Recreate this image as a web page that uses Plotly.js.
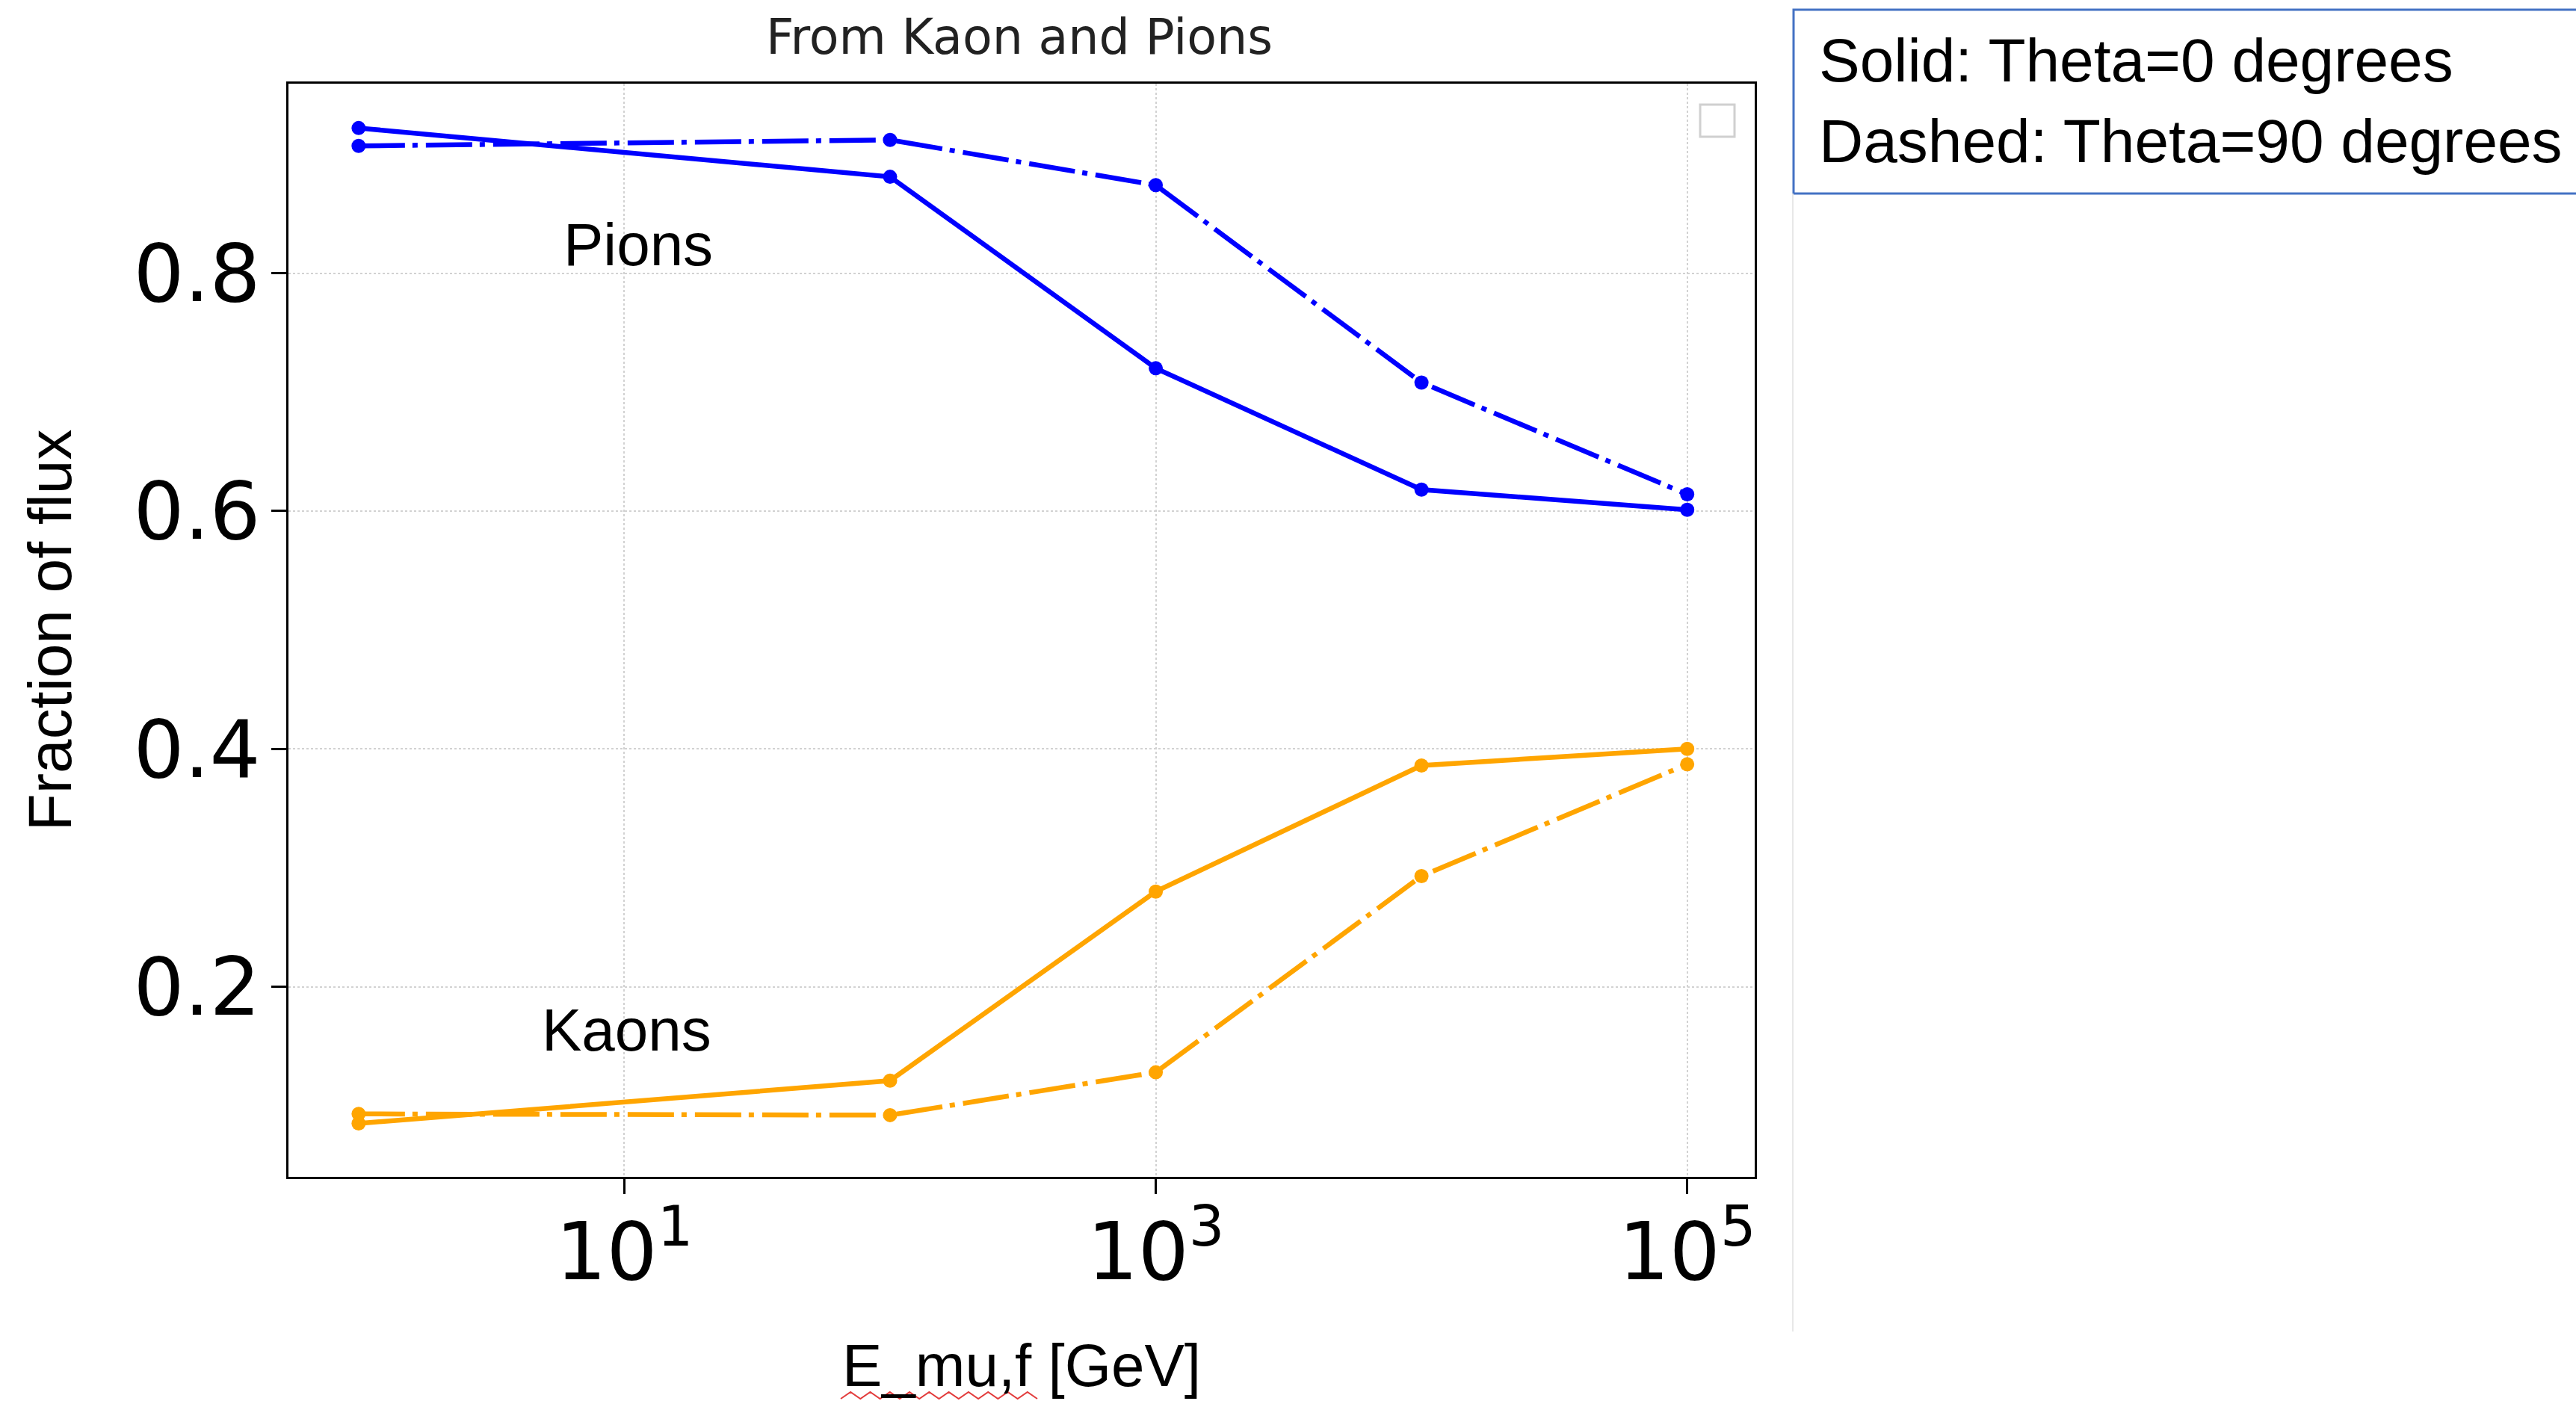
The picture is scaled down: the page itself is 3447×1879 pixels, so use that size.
<!DOCTYPE html>
<html>
<head>
<meta charset="utf-8">
<script src="https://cdn.plot.ly/plotly-3.0.1.min.js"></script>
<style>
html, body { margin: 0; padding: 0; background: #ffffff; }
#chart { width: 3447px; height: 1879px; }
</style>
</head>
<body>
<div id="chart"></div>
<script>
// ---- data ----
const energy = [1, 100, 1000, 10000, 100000];
const pionSolid = [0.922, 0.881, 0.720, 0.618, 0.601];
const pionDashed = [0.907, 0.912, 0.874, 0.708, 0.614];
const kaonSolid = [0.085, 0.121, 0.280, 0.386, 0.400];
const kaonDashed = [0.093, 0.092, 0.128, 0.293, 0.387];

const xTickVals = [10, 1000, 100000];
const xTickText = ['10<sup>1</sup>', '10<sup>3</sup>', '10<sup>5</sup>'];
const yTickVals = [0.2, 0.4, 0.6, 0.8];
const yTickText = ['0.2', '0.4', '0.6', '0.8'];

const seriesNames = ['Pions, Theta=0', 'Pions, Theta=90', 'Kaons, Theta=0', 'Kaons, Theta=90'];
const groupLabels = ['Pions', 'Kaons'];
const noteLines = ['Solid: Theta=0 degrees', 'Dashed: Theta=90 degrees'];
const chartTitle = 'From Kaon and Pions';
const xTitle = 'E_mu,f [GeV]';
const yTitle = 'Fraction of flux';

// ---- layout geometry ----
const W = 3447, H = 1879;
const L = 386, R = W - 2348, T = 112, B = H - 1575;
const PW = W - L - R, PH = H - T - B;
const px2x = p => (p - L) / PW;
const py2y = p => (H - B - p) / PH;

const BLUE = '#0000ff';
const ORANGE = '#ffa500';
const DASHDOT = '62px,10px,7px,11px';

function series(y, name, color, dash) {
  return {
    x: energy, y: y, name: name, type: 'scatter', mode: 'lines+markers',
    line: {color: color, width: 6.5, dash: dash},
    marker: {color: color, size: 19, symbol: 'circle'},
    showlegend: false, hoverinfo: 'skip'
  };
}

const traces = [
  series(pionDashed, seriesNames[1], BLUE, DASHDOT),
  series(pionSolid, seriesNames[0], BLUE, 'solid'),
  series(kaonDashed, seriesNames[3], ORANGE, DASHDOT),
  series(kaonSolid, seriesNames[2], ORANGE, 'solid')
];

// wavy spell-check underline under "E_mu,f"
let wave = '';
const wx0 = 1125, wx1 = 1388, wyTop = 1863, wyBot = 1872, nSeg = 20;
for (let i = 0; i <= nSeg; i++) {
  const xp = wx0 + (wx1 - wx0) * i / nSeg;
  const yp = (i % 2 === 0) ? wyBot : wyTop;
  wave += (i === 0 ? 'M' : 'L') + px2x(xp).toFixed(5) + ',' + py2y(yp).toFixed(5);
}

const shapes = [
  {type: 'rect', xref: 'paper', yref: 'paper', x0: px2x(2400), x1: px2x(3470), y0: py2y(259), y1: py2y(13),
   line: {color: '#4472c4', width: 3}, fillcolor: 'rgba(0,0,0,0)'},
  {type: 'line', xref: 'paper', yref: 'paper', x0: px2x(2399), x1: px2x(2399), y0: py2y(259), y1: py2y(1782),
   line: {color: '#e8e8e8', width: 2}},
  {type: 'rect', xref: 'paper', yref: 'paper', x0: px2x(2275), x1: px2x(2321), y0: py2y(183), y1: py2y(140),
   line: {color: '#d0d0d0', width: 3}, fillcolor: 'rgba(255,255,255,0.8)'},
  {type: 'path', xref: 'paper', yref: 'paper', path: wave, line: {color: '#e23b3b', width: 2}}
];

const textFont = {family: 'Liberation Sans, Arial, sans-serif', color: '#000000'};

const annotations = [
  {text: groupLabels[0], xref: 'paper', yref: 'paper', x: px2x(854), y: py2y(328), xanchor: 'center', yanchor: 'middle',
   showarrow: false, font: Object.assign({size: 80}, textFont)},
  {text: groupLabels[1], xref: 'paper', yref: 'paper', x: px2x(838), y: py2y(1378), xanchor: 'center', yanchor: 'middle',
   showarrow: false, font: Object.assign({size: 80}, textFont)},
  {text: noteLines[0], xref: 'paper', yref: 'paper', x: px2x(2432), y: py2y(81), xanchor: 'left', yanchor: 'middle',
   showarrow: false, font: Object.assign({size: 82}, textFont)},
  {text: noteLines[1], xref: 'paper', yref: 'paper', x: px2x(2432), y: py2y(188), xanchor: 'left', yanchor: 'middle',
   showarrow: false, font: Object.assign({size: 82}, textFont)}
];

const tickFont = {family: 'DejaVu Sans, sans-serif', size: 107, color: '#000000'};

const layout = {
  width: W, height: H,
  margin: {l: L, r: R, t: T, b: B, pad: 0},
  paper_bgcolor: '#ffffff', plot_bgcolor: '#ffffff',
  showlegend: false,
  title: {text: chartTitle, font: {family: 'DejaVu Sans, sans-serif', size: 65, color: '#222222'},
          x: px2x(1364), xref: 'paper', xanchor: 'center', y: 1 - 49 / H, yref: 'container', yanchor: 'middle'},
  xaxis: {
    type: 'log', range: [-0.264, 5.254], autorange: false,
    tickmode: 'array', tickvals: xTickVals, ticktext: xTickText,
    ticks: 'outside', ticklen: 20, tickwidth: 3, tickcolor: '#000000',
    showline: true, linecolor: '#000000', linewidth: 3, mirror: true,
    showgrid: true, gridcolor: '#d2d2d2', gridwidth: 2, griddash: 'dot',
    zeroline: false, automargin: false, tickfont: tickFont, ticklabelstandoff: -14,
    title: {text: xTitle, font: Object.assign({size: 80}, textFont), standoff: 63}
  },
  yaxis: {
    range: [0.0401, 0.9593], autorange: false,
    tickmode: 'array', tickvals: yTickVals, ticktext: yTickText,
    ticks: 'outside', ticklen: 20, tickwidth: 3, tickcolor: '#000000',
    showline: true, linecolor: '#000000', linewidth: 3, mirror: true,
    showgrid: true, gridcolor: '#d2d2d2', gridwidth: 2, griddash: 'dot',
    zeroline: false, automargin: false, tickfont: tickFont, ticklabelstandoff: -7,
    title: {text: yTitle, font: Object.assign({size: 82}, textFont), standoff: 56}
  },
  shapes: shapes,
  annotations: annotations
};

Plotly.newPlot('chart', traces, layout, {displayModeBar: false, staticPlot: true});
</script>
</body>
</html>
